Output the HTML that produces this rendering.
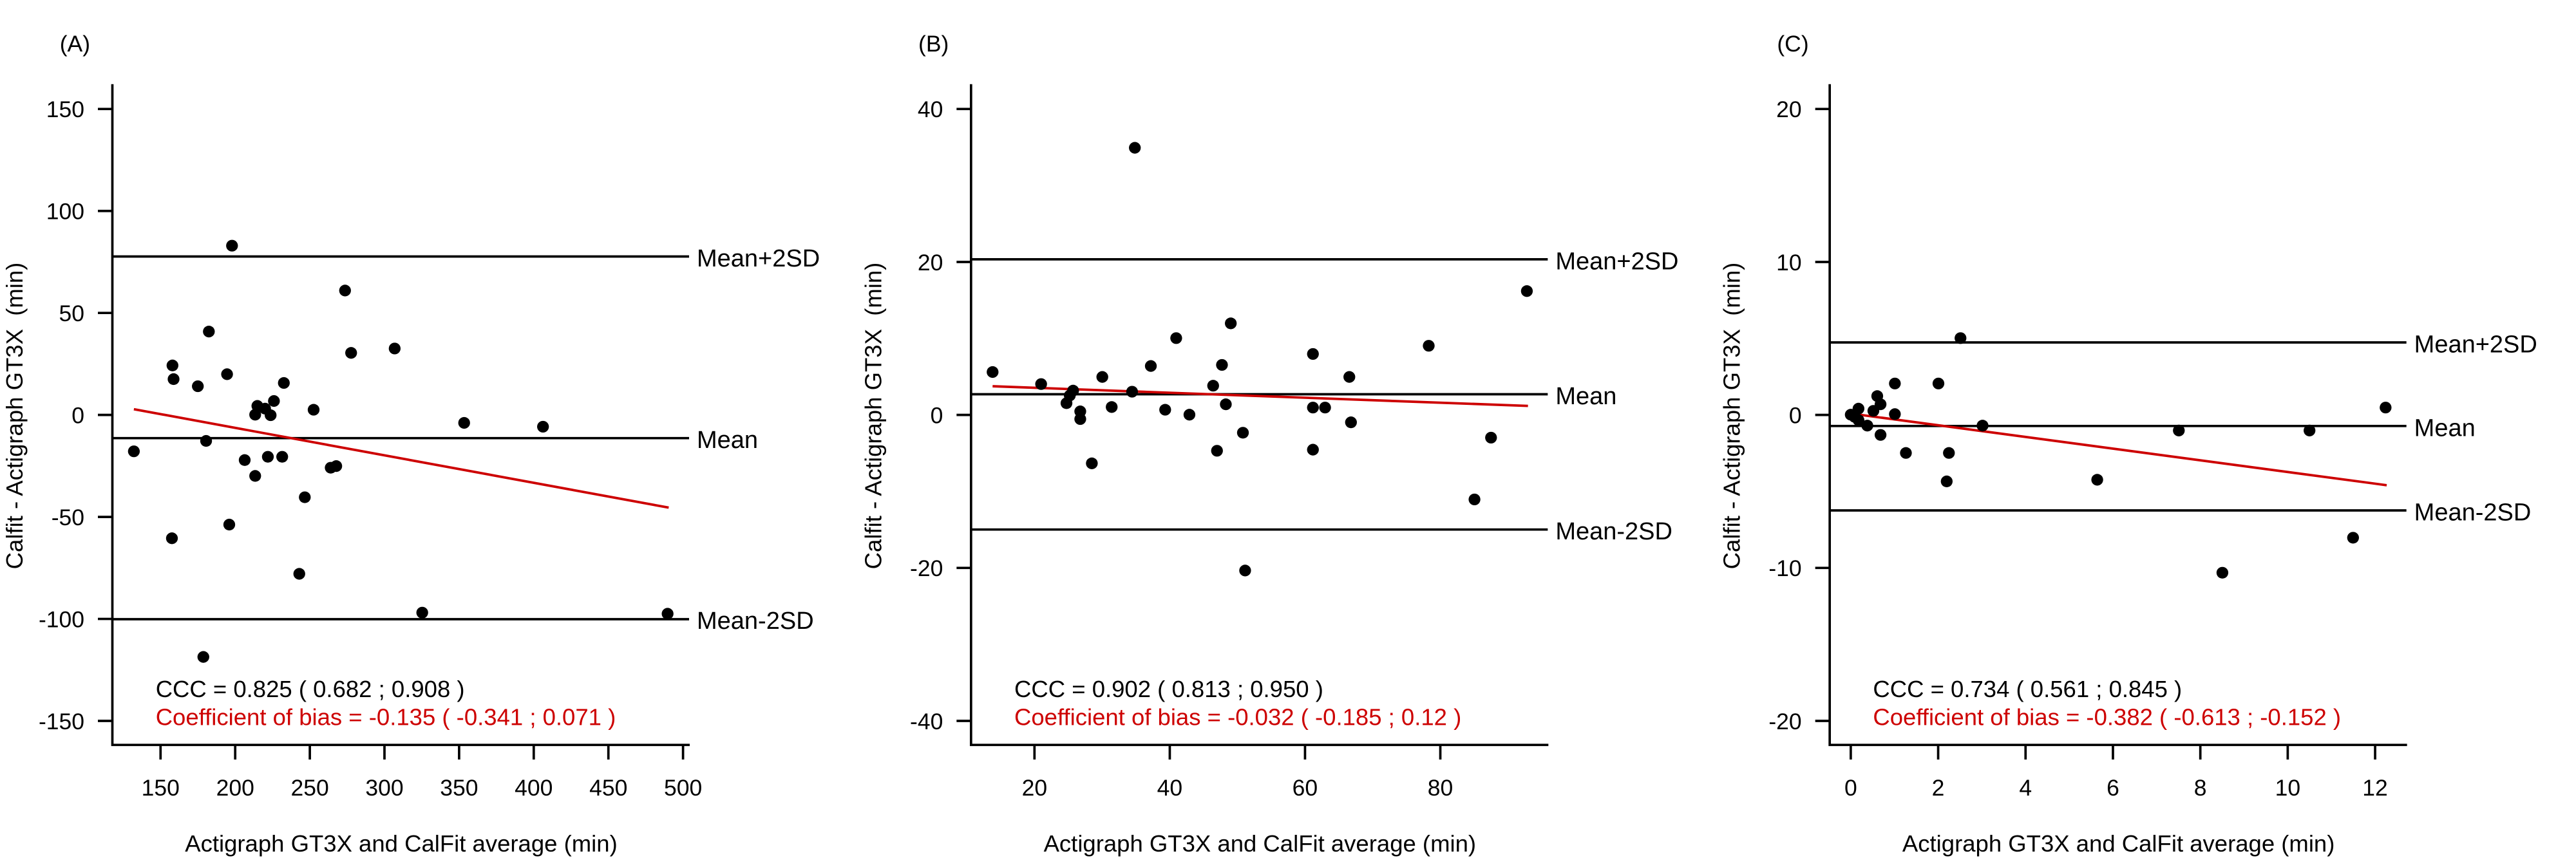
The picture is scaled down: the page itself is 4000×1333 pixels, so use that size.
<!DOCTYPE html>
<html>
<head>
<meta charset="utf-8">
<style>
html,body{margin:0;padding:0;background:#fff;}
svg{display:block;}
text{font-family:"Liberation Sans",Arial,sans-serif;white-space:pre;}
</style>
</head>
<body>
<svg xmlns="http://www.w3.org/2000/svg" width="4000" height="1333" viewBox="0 0 4000 1333">
<rect width="4000" height="1333" fill="#fff"/>

<!-- ================= PANEL A ================= -->
<g>
  <text x="92.7" y="80" font-size="35.5">(A)</text>
  <path d="M174.5,130.7 V1157.3 H1071" stroke="#000" stroke-width="3.7" fill="none"/>
  <g stroke="#000" stroke-width="3.7">
    <line x1="152" y1="169.3" x2="175" y2="169.3"/>
    <line x1="152" y1="327.75" x2="175" y2="327.75"/>
    <line x1="152" y1="486.2" x2="175" y2="486.2"/>
    <line x1="152" y1="644.65" x2="175" y2="644.65"/>
    <line x1="152" y1="803.1" x2="175" y2="803.1"/>
    <line x1="152" y1="961.55" x2="175" y2="961.55"/>
    <line x1="152" y1="1120" x2="175" y2="1120"/>
  </g>
  <g font-size="35.5" text-anchor="end">
    <text x="131" y="182">150</text>
    <text x="131" y="340.5">100</text>
    <text x="131" y="499">50</text>
    <text x="131" y="657.5">0</text>
    <text x="131" y="816">-50</text>
    <text x="131" y="974.5">-100</text>
    <text x="131" y="1133">-150</text>
  </g>
  <g stroke="#000" stroke-width="3.7">
    <line x1="249.3" y1="1157" x2="249.3" y2="1180"/>
    <line x1="365.2" y1="1157" x2="365.2" y2="1180"/>
    <line x1="481.1" y1="1157" x2="481.1" y2="1180"/>
    <line x1="597" y1="1157" x2="597" y2="1180"/>
    <line x1="712.9" y1="1157" x2="712.9" y2="1180"/>
    <line x1="828.8" y1="1157" x2="828.8" y2="1180"/>
    <line x1="944.7" y1="1157" x2="944.7" y2="1180"/>
    <line x1="1060.6" y1="1157" x2="1060.6" y2="1180"/>
  </g>
  <g font-size="35.5" text-anchor="middle">
    <text x="249.3" y="1236">150</text>
    <text x="365.2" y="1236">200</text>
    <text x="481.1" y="1236">250</text>
    <text x="597" y="1236">300</text>
    <text x="712.9" y="1236">350</text>
    <text x="828.8" y="1236">400</text>
    <text x="944.7" y="1236">450</text>
    <text x="1060.6" y="1236">500</text>
  </g>
  <g stroke="#000" stroke-width="3.7">
    <line x1="175" y1="398.5" x2="1070" y2="398.5"/>
    <line x1="175" y1="680.7" x2="1070" y2="680.7"/>
    <line x1="175" y1="962" x2="1070" y2="962"/>
  </g>
  <g font-size="38">
    <text x="1082" y="414">Mean+2SD</text>
    <text x="1082" y="696">Mean</text>
    <text x="1082" y="977">Mean-2SD</text>
  </g>
  <g transform="translate(-0.16,1.08) scale(0.85616,0.84962)">
    <line x1="243" y1="747" x2="1213" y2="927" stroke="#cd0000" stroke-width="3.8" vector-effect="non-scaling-stroke"/>
    <g fill="#000">
      <circle cx="243" cy="824" r="10.7"/><circle cx="313" cy="667" r="10.7"/><circle cx="315" cy="692" r="10.7"/>
      <circle cx="312" cy="983" r="10.7"/><circle cx="359" cy="705" r="10.7"/><circle cx="379" cy="605" r="10.7"/>
      <circle cx="374" cy="805" r="10.7"/><circle cx="369" cy="1200" r="10.7"/><circle cx="412" cy="683" r="10.7"/>
      <circle cx="416" cy="958" r="10.7"/><circle cx="421" cy="448" r="10.7"/><circle cx="444" cy="840" r="10.7"/>
      <circle cx="463" cy="757" r="10.7"/><circle cx="467" cy="741" r="10.7"/><circle cx="463" cy="869" r="10.7"/>
      <circle cx="481" cy="746" r="10.7"/><circle cx="486" cy="834" r="10.7"/><circle cx="491" cy="758" r="10.7"/>
      <circle cx="497" cy="732" r="10.7"/><circle cx="512" cy="834" r="10.7"/><circle cx="515" cy="699" r="10.7"/>
      <circle cx="543" cy="1048" r="10.7"/><circle cx="553" cy="908" r="10.7"/><circle cx="569" cy="748" r="10.7"/>
      <circle cx="600" cy="854" r="10.7"/><circle cx="610" cy="851" r="10.7"/><circle cx="626" cy="530" r="10.7"/>
      <circle cx="637" cy="644" r="10.7"/><circle cx="716" cy="636" r="10.7"/><circle cx="766" cy="1119" r="10.7"/>
      <circle cx="842" cy="772" r="10.7"/><circle cx="985" cy="779" r="10.7"/><circle cx="1211" cy="1121" r="10.7"/>
    </g>
  </g>
  <text x="241.7" y="1083" font-size="36.5">CCC = 0.825 ( 0.682 ; 0.908 )</text>
  <text x="241.7" y="1126.7" font-size="36.5" fill="#cd0000">Coefficient of bias = -0.135 ( -0.341 ; 0.071 )</text>
  <text x="623" y="1323" font-size="36.5" text-anchor="middle">Actigraph GT3X and CalFit average (min)</text>
  <text transform="translate(35,646) rotate(-90)" font-size="36.5" text-anchor="middle">Calfit - Actigraph GT3X  (min)</text>
</g>

<!-- ================= PANEL B ================= -->
<g transform="translate(1333.33,0)">
  <text x="92.7" y="80" font-size="35.5">(B)</text>
  <path d="M174.5,130.7 V1157.3 H1071" stroke="#000" stroke-width="3.7" fill="none"/>
  <g stroke="#000" stroke-width="3.7">
    <line x1="152" y1="169.3" x2="175" y2="169.3"/>
    <line x1="152" y1="407" x2="175" y2="407"/>
    <line x1="152" y1="644.65" x2="175" y2="644.65"/>
    <line x1="152" y1="882.3" x2="175" y2="882.3"/>
    <line x1="152" y1="1120" x2="175" y2="1120"/>
  </g>
  <g font-size="35.5" text-anchor="end">
    <text x="131" y="182">40</text>
    <text x="131" y="420">20</text>
    <text x="131" y="657.5">0</text>
    <text x="131" y="895">-20</text>
    <text x="131" y="1133">-40</text>
  </g>
  <g stroke="#000" stroke-width="3.7">
    <line x1="273" y1="1157" x2="273" y2="1180"/>
    <line x1="483.1" y1="1157" x2="483.1" y2="1180"/>
    <line x1="693.1" y1="1157" x2="693.1" y2="1180"/>
    <line x1="903.2" y1="1157" x2="903.2" y2="1180"/>
  </g>
  <g font-size="35.5" text-anchor="middle">
    <text x="273" y="1236">20</text>
    <text x="483.1" y="1236">40</text>
    <text x="693.1" y="1236">60</text>
    <text x="903.2" y="1236">80</text>
  </g>
  <g stroke="#000" stroke-width="3.7">
    <line x1="175" y1="402.9" x2="1070" y2="402.9"/>
    <line x1="175" y1="612.5" x2="1070" y2="612.5"/>
    <line x1="175" y1="822.7" x2="1070" y2="822.7"/>
  </g>
  <g font-size="38">
    <text x="1082" y="418.5">Mean+2SD</text>
    <text x="1082" y="628">Mean</text>
    <text x="1082" y="838">Mean-2SD</text>
  </g>
  <g transform="translate(-3.5,1.08) scale(0.85616,0.84962)">
    <line x1="247" y1="705" x2="1218" y2="741" stroke="#cd0000" stroke-width="3.8" vector-effect="non-scaling-stroke"/>
    <g fill="#000">
      <circle cx="247" cy="679" r="10.7"/><circle cx="335" cy="701" r="10.7"/><circle cx="381" cy="736" r="10.7"/>
      <circle cx="387" cy="722" r="10.7"/><circle cx="393" cy="713" r="10.7"/><circle cx="406" cy="751" r="10.7"/>
      <circle cx="406" cy="765" r="10.7"/><circle cx="427" cy="846" r="10.7"/><circle cx="446" cy="688" r="10.7"/>
      <circle cx="463" cy="743" r="10.7"/><circle cx="500" cy="715" r="10.7"/><circle cx="505" cy="269" r="10.7"/>
      <circle cx="534" cy="668" r="10.7"/><circle cx="560" cy="748" r="10.7"/><circle cx="580" cy="617" r="10.7"/>
      <circle cx="604" cy="757" r="10.7"/><circle cx="647" cy="704" r="10.7"/><circle cx="654" cy="823" r="10.7"/>
      <circle cx="663" cy="666" r="10.7"/><circle cx="670" cy="738" r="10.7"/><circle cx="679" cy="590" r="10.7"/>
      <circle cx="701" cy="790" r="10.7"/><circle cx="705" cy="1042" r="10.7"/><circle cx="828" cy="646" r="10.7"/>
      <circle cx="828" cy="744" r="10.7"/><circle cx="828" cy="821" r="10.7"/><circle cx="850" cy="744" r="10.7"/>
      <circle cx="894" cy="688" r="10.7"/><circle cx="897" cy="771" r="10.7"/><circle cx="1038" cy="631" r="10.7"/>
      <circle cx="1121" cy="912" r="10.7"/><circle cx="1151" cy="799" r="10.7"/><circle cx="1216" cy="531" r="10.7"/>
    </g>
  </g>
  <text x="241.7" y="1083" font-size="36.5">CCC = 0.902 ( 0.813 ; 0.950 )</text>
  <text x="241.7" y="1126.7" font-size="36.5" fill="#cd0000">Coefficient of bias = -0.032 ( -0.185 ; 0.12 )</text>
  <text x="623" y="1323" font-size="36.5" text-anchor="middle">Actigraph GT3X and CalFit average (min)</text>
  <text transform="translate(35,646) rotate(-90)" font-size="36.5" text-anchor="middle">Calfit - Actigraph GT3X  (min)</text>
</g>

<!-- ================= PANEL C ================= -->
<g transform="translate(2666.67,0)">
  <text x="92.7" y="80" font-size="35.5">(C)</text>
  <path d="M174.5,130.7 V1157.3 H1071" stroke="#000" stroke-width="3.7" fill="none"/>
  <g stroke="#000" stroke-width="3.7">
    <line x1="152" y1="169.3" x2="175" y2="169.3"/>
    <line x1="152" y1="407" x2="175" y2="407"/>
    <line x1="152" y1="644.65" x2="175" y2="644.65"/>
    <line x1="152" y1="882.3" x2="175" y2="882.3"/>
    <line x1="152" y1="1120" x2="175" y2="1120"/>
  </g>
  <g font-size="35.5" text-anchor="end">
    <text x="131" y="182">20</text>
    <text x="131" y="420">10</text>
    <text x="131" y="657.5">0</text>
    <text x="131" y="895">-10</text>
    <text x="131" y="1133">-20</text>
  </g>
  <g stroke="#000" stroke-width="3.7">
    <line x1="207.2" y1="1157" x2="207.2" y2="1180"/>
    <line x1="342.9" y1="1157" x2="342.9" y2="1180"/>
    <line x1="478.6" y1="1157" x2="478.6" y2="1180"/>
    <line x1="614.3" y1="1157" x2="614.3" y2="1180"/>
    <line x1="750" y1="1157" x2="750" y2="1180"/>
    <line x1="885.7" y1="1157" x2="885.7" y2="1180"/>
    <line x1="1021.4" y1="1157" x2="1021.4" y2="1180"/>
  </g>
  <g font-size="35.5" text-anchor="middle">
    <text x="207.2" y="1236">0</text>
    <text x="342.9" y="1236">2</text>
    <text x="478.6" y="1236">4</text>
    <text x="614.3" y="1236">6</text>
    <text x="750" y="1236">8</text>
    <text x="885.7" y="1236">10</text>
    <text x="1021.4" y="1236">12</text>
  </g>
  <g stroke="#000" stroke-width="3.7">
    <line x1="175" y1="532" x2="1070" y2="532"/>
    <line x1="175" y1="661.8" x2="1070" y2="661.8"/>
    <line x1="175" y1="793" x2="1070" y2="793"/>
  </g>
  <g font-size="38">
    <text x="1082" y="547.5">Mean+2SD</text>
    <text x="1082" y="677.3">Mean</text>
    <text x="1082" y="808.5">Mean-2SD</text>
  </g>
  <g transform="translate(-6.84,1.08) scale(0.85616,0.84962)">
    <line x1="250" y1="755" x2="1222" y2="886" stroke="#cd0000" stroke-width="3.8" vector-effect="non-scaling-stroke"/>
    <g fill="#000">
      <circle cx="250" cy="757" r="10.7"/><circle cx="257" cy="761" r="10.7"/><circle cx="264" cy="746" r="10.7"/>
      <circle cx="264" cy="767" r="10.7"/><circle cx="280" cy="777" r="10.7"/><circle cx="291" cy="750" r="10.7"/>
      <circle cx="298" cy="723" r="10.7"/><circle cx="304" cy="738" r="10.7"/><circle cx="304" cy="794" r="10.7"/>
      <circle cx="330" cy="700" r="10.7"/><circle cx="330" cy="756" r="10.7"/><circle cx="350" cy="827" r="10.7"/>
      <circle cx="409" cy="700" r="10.7"/><circle cx="428" cy="827" r="10.7"/><circle cx="424" cy="879" r="10.7"/>
      <circle cx="449" cy="617" r="10.7"/><circle cx="489" cy="777" r="10.7"/><circle cx="697" cy="876" r="10.7"/>
      <circle cx="845" cy="786" r="10.7"/><circle cx="924" cy="1046" r="10.7"/><circle cx="1082" cy="786" r="10.7"/>
      <circle cx="1161" cy="982" r="10.7"/><circle cx="1220" cy="744" r="10.7"/>
    </g>
  </g>
  <text x="241.7" y="1083" font-size="36.5">CCC = 0.734 ( 0.561 ; 0.845 )</text>
  <text x="241.7" y="1126.7" font-size="36.5" fill="#cd0000">Coefficient of bias = -0.382 ( -0.613 ; -0.152 )</text>
  <text x="623" y="1323" font-size="36.5" text-anchor="middle">Actigraph GT3X and CalFit average (min)</text>
  <text transform="translate(35,646) rotate(-90)" font-size="36.5" text-anchor="middle">Calfit - Actigraph GT3X  (min)</text>
</g>
</svg>
</body>
</html>
